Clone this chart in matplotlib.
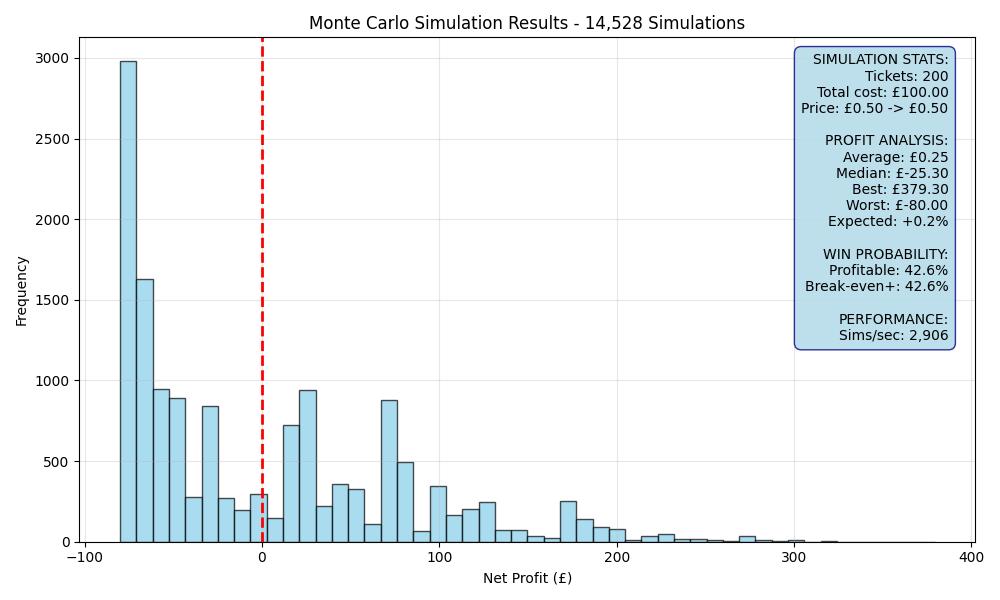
import numpy as np
import matplotlib
matplotlib.use("Agg")
import matplotlib.pyplot as plt

# histogram data (50 bins, worst -80 to best 379.30)
worst = -80.0
best = 379.30
n_bins = 50
counts = [
    2979, 1630, 948, 893, 279, 843, 273, 198, 298, 149,
    725, 938, 223, 360, 328, 111, 880, 495, 66, 346,
    166, 203, 247, 73, 73, 37, 23, 253, 141, 93,
    79, 12, 35, 47, 17, 17, 10, 4, 35, 10,
    4, 12, 0, 6, 0, 0, 0, 0, 0, 1,
]

stats_lines = [
    "SIMULATION STATS:",
    "Tickets: 200",
    "Total cost: £100.00",
    "Price: £0.50 -> £0.50",
    "",
    "PROFIT ANALYSIS:",
    "Average: £0.25",
    "Median: £-25.30",
    "Best: £379.30",
    "Worst: £-80.00",
    "Expected: +0.2%",
    "",
    "WIN PROBABILITY:",
    "Profitable: 42.6%",
    "Break-even+: 42.6%",
    "",
    "PERFORMANCE:",
    "Sims/sec: 2,906",
]

edges = np.linspace(worst, best, n_bins + 1)
centers = (edges[:-1] + edges[1:]) / 2

fig, ax = plt.subplots(figsize=(10, 6), dpi=100)
ax.hist(centers, bins=edges, weights=counts, color='skyblue',
        edgecolor='black', alpha=0.7)
ax.axvline(0, color='red', linestyle='--', linewidth=2)

ax.set_title("Monte Carlo Simulation Results - 14,528 Simulations", fontsize=12)
ax.set_xlabel("Net Profit (£)")
ax.set_ylabel("Frequency")
ax.grid(True, alpha=0.3)

ax.text(0.97, 0.968, "\n".join(stats_lines), transform=ax.transAxes,
        ha='right', va='top', fontsize=10,
        bbox=dict(boxstyle='round,pad=0.5', facecolor='lightblue', alpha=0.8,
                  edgecolor='navy'))

plt.tight_layout()
plt.savefig("out.png", dpi=100)
